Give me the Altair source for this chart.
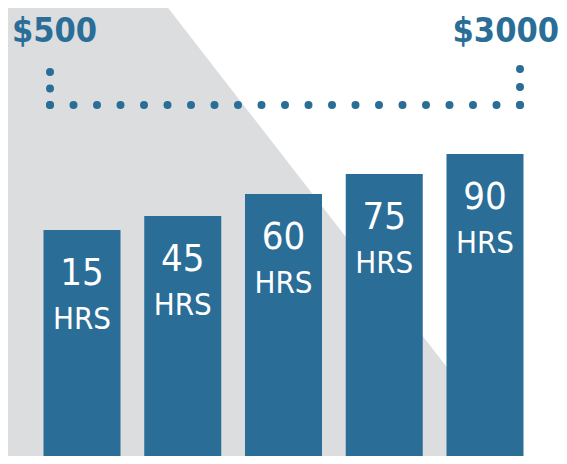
import altair as alt
import pandas as pd

# ---- data ----
hours = [15, 45, 60, 75, 90]
hours_unit = ["HRS", "HRS", "HRS", "HRS", "HRS"]
bar_heights = [234, 248, 270, 290, 310]      # bar height (px units of the picture, from bottom edge)

price_text = ["$500", "$3000"]
price_x = [12, 559]
price_h = [422, 422]
price_align = ["left", "right"]

bg_x = [0, 162, 522]          # grey diagonal panel outline
bg_h = [464, 464, 0]

br_x = [50, 50, 520]
br_x2 = [521, 50, 520]
br_h = [359, 359, 359]
br_h2 = [359, 392.5, 395.5]
br_part = ["row", "left", "right"]

BLUE = "#2a6e98"
GREY = "#dcdddf"
FONT = "DejaVu Sans Condensed, sans-serif"

W, H = 551, 448
XC = alt.Scale(domain=[8, 559])
YC = alt.Scale(domain=[8, 456])

bars_df = pd.DataFrame({"hours": [str(h) for h in hours], "unit": hours_unit, "h": bar_heights})
bg_df = pd.DataFrame({"x": bg_x, "h": bg_h})
price_df = pd.DataFrame({"t": price_text, "x": price_x, "h": price_h, "a": price_align})
br_df = pd.DataFrame({"x": br_x, "x2": br_x2, "h": br_h, "h2": br_h2, "part": br_part})

bg = alt.Chart(bg_df).mark_area(color=GREY, clip=True, interpolate="linear").encode(
    x=alt.X("x:Q", scale=XC, axis=None),
    y=alt.Y("h:Q", scale=YC, axis=None),
    y2=alt.datum(0),
)

def bracket(part, gap):
    return alt.Chart(br_df).transform_filter(alt.datum.part == part).mark_rule(
        color=BLUE, strokeWidth=8, strokeCap="round", strokeDash=[0, gap]
    ).encode(
        x=alt.X("x:Q", scale=XC, axis=None),
        x2="x2:Q",
        y=alt.Y("h:Q", scale=YC, axis=None),
        y2="h2:Q",
    )

row = bracket("row", 23.5)
left = bracket("left", 16.5)
right = bracket("right", 18)

def price(align):
    return alt.Chart(price_df).transform_filter(alt.datum.a == align).mark_text(
        font=FONT, fontSize=34, fontWeight="bold", color=BLUE, align=align, baseline="alphabetic"
    ).encode(x=alt.X("x:Q", scale=XC, axis=None), y=alt.Y("h:Q", scale=YC, axis=None), text="t:N")

price_l = price("left")
price_r = price("right")

XB = alt.X("hours:N", sort=None, axis=None,
           scale=alt.Scale(paddingInner=0.2357, paddingOuter=0.3524))
YB = alt.Y("h:Q", scale=YC, axis=None)

bars = alt.Chart(bars_df).mark_bar(color=BLUE, clip=True).encode(x=XB, y=YB, y2=alt.datum(0))
num = alt.Chart(bars_df).mark_text(
    font=FONT, fontSize=38, color="white", baseline="alphabetic", dy=55
).encode(x=XB, y=YB, text="hours:N")
unit = alt.Chart(bars_df).mark_text(
    font=FONT, fontSize=31, color="white", baseline="alphabetic", dy=99
).encode(x=XB, y=YB, text="unit:N")

canvas = alt.layer(bg, row, left, right, price_l, price_r)
barlayer = alt.layer(bars, num, unit)

chart = alt.layer(canvas, barlayer).resolve_scale(x="independent").properties(
    width=W, height=H, padding=0, autosize=alt.AutoSizeParams(type="none"), background="white"
).configure_view(strokeWidth=0)

chart.save("out.html", embed_options={"renderer": "svg", "actions": False})
